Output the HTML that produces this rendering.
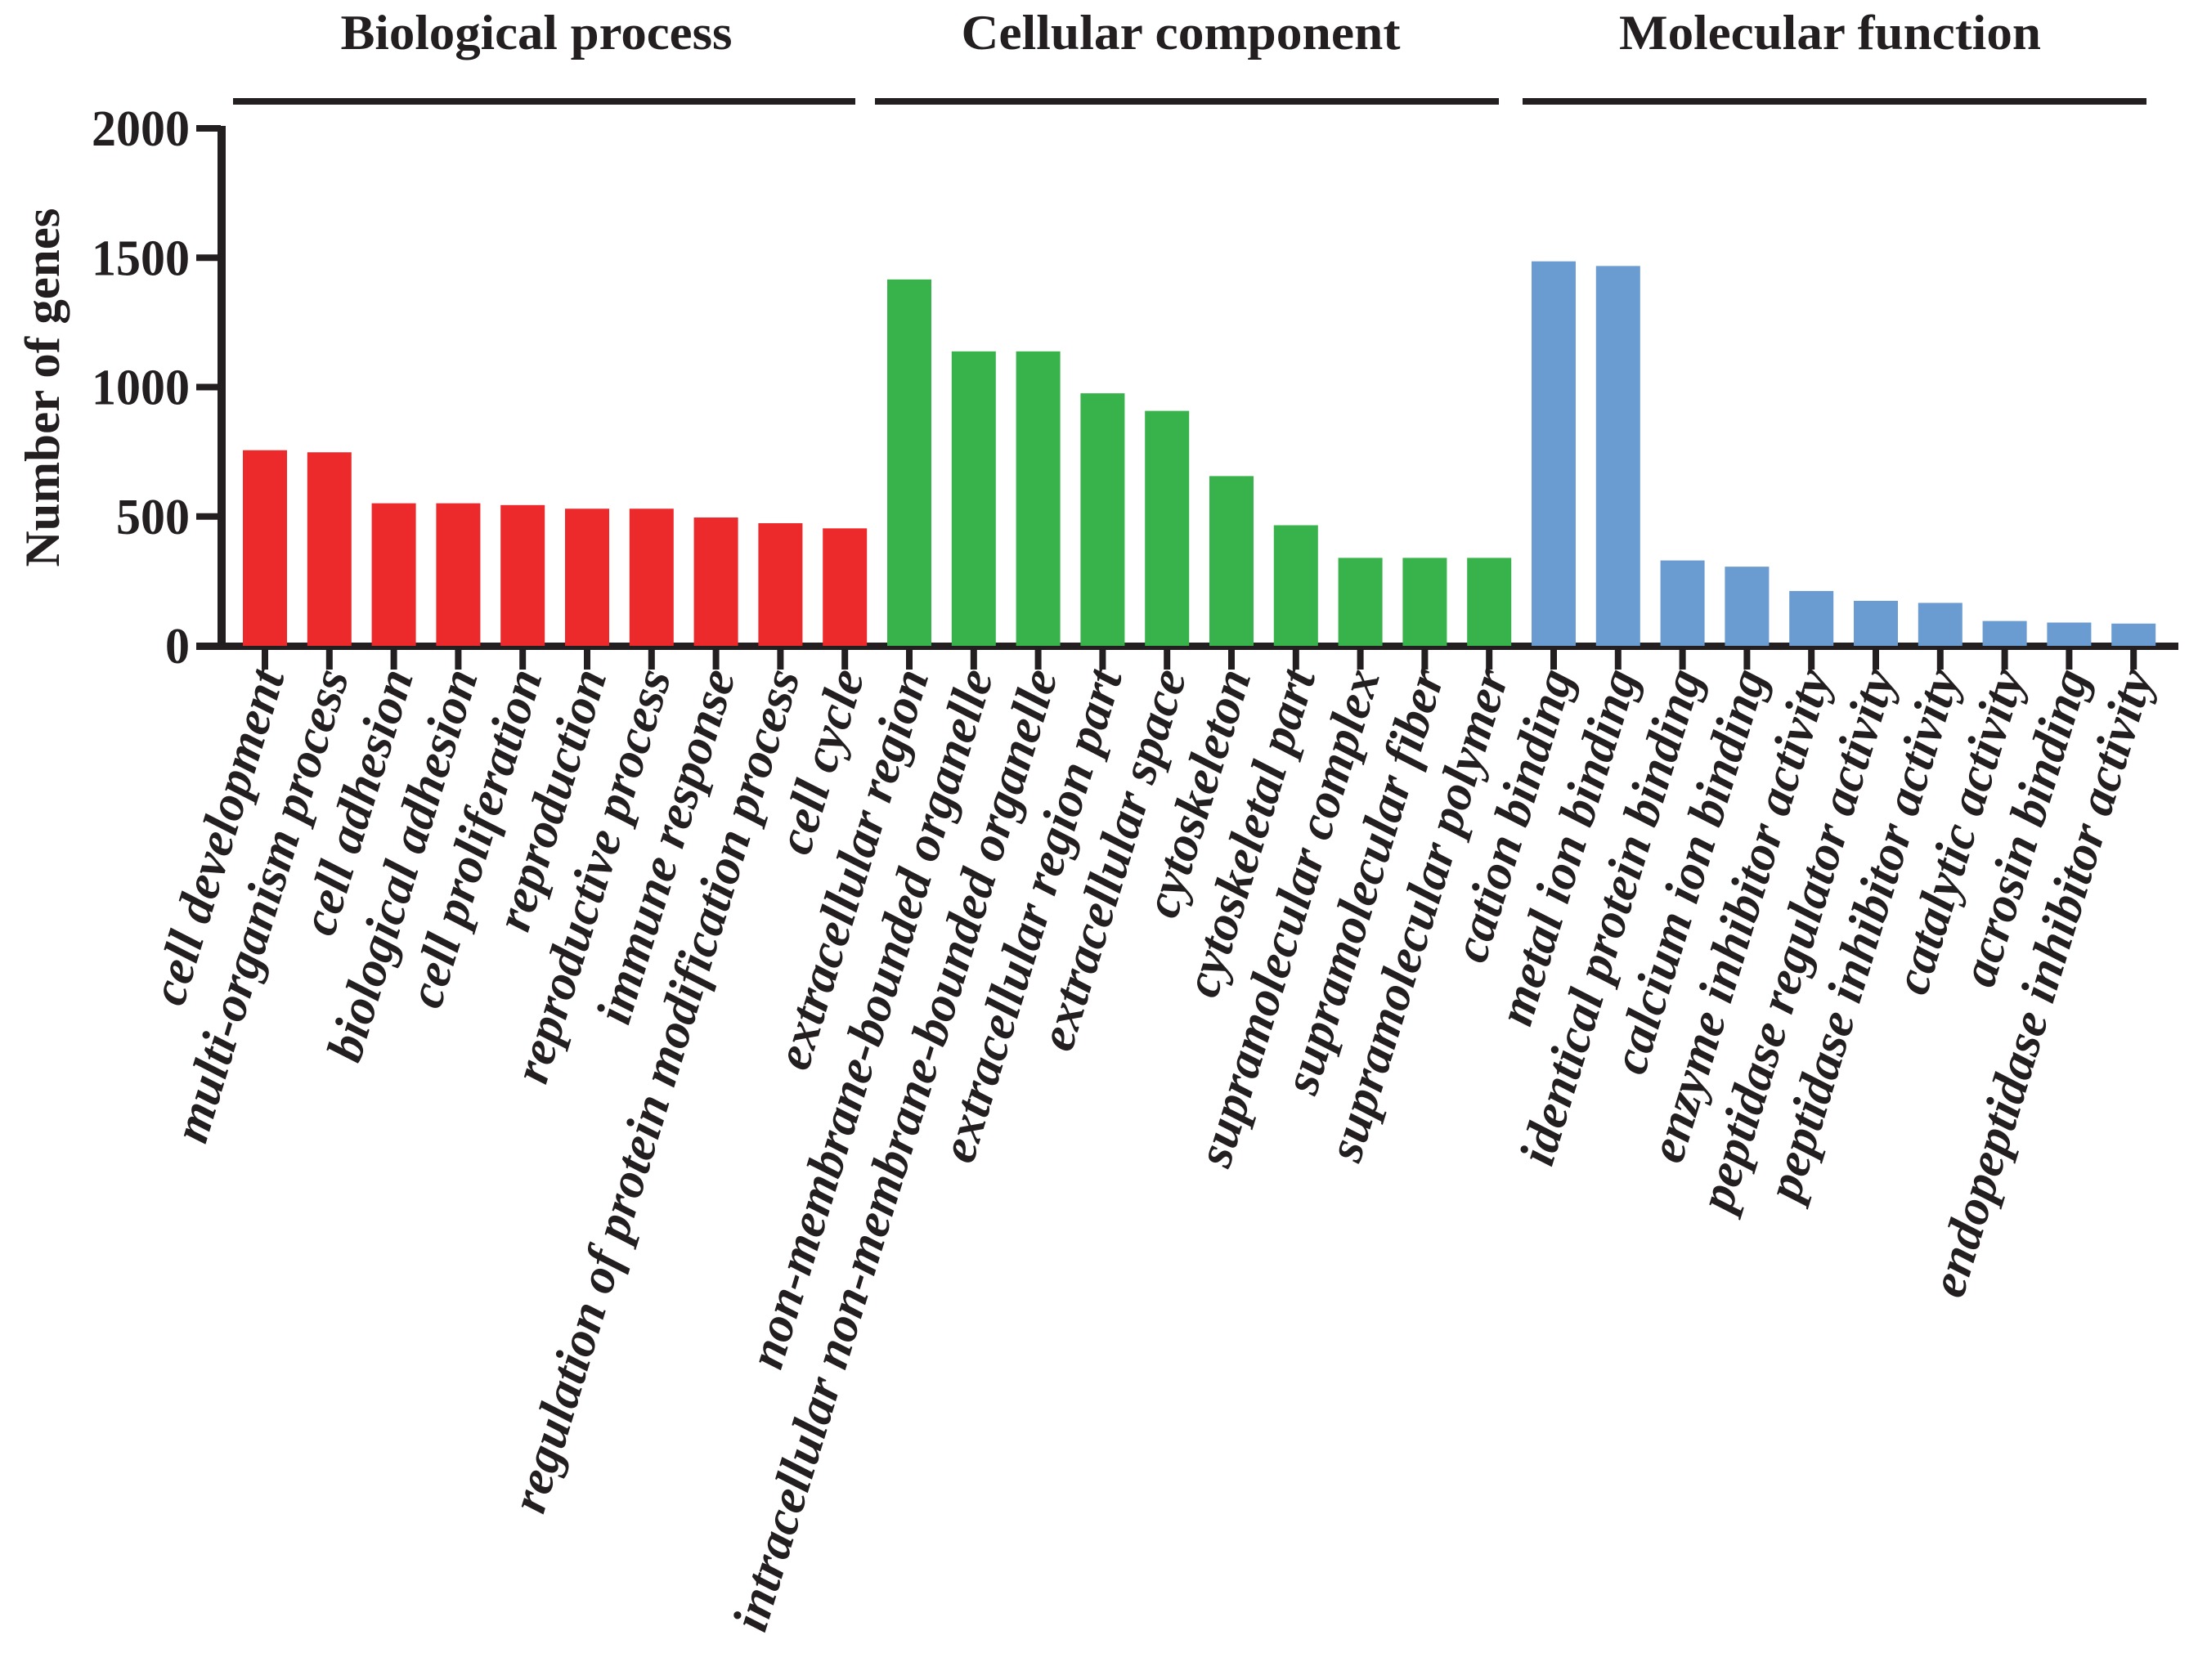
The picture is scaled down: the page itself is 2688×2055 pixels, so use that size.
<!DOCTYPE html>
<html><head><meta charset="utf-8"><style>
html,body{margin:0;padding:0;background:#fff;}
svg{display:block;}
text{font-family:"Liberation Serif",serif;font-weight:bold;fill:#231f20;}
</style></head><body>
<svg id="chart" width="2688" height="2055" viewBox="0 0 2688 2055" xmlns="http://www.w3.org/2000/svg">
<g id="axes"></g>
<g id="bars"></g>
<g id="labels"></g>
<g id="groups"></g>
</svg>
<script>
const categories = ["cell development","multi-organism process","cell adhesion","biological adhesion","cell proliferation","reproduction","reproductive process","immune response","regulation of protein modification process","cell cycle",
"extracellular region","non-membrane-bounded organelle","intracellular non-membrane-bounded organelle","extracellular region part","extracellular space","cytoskeleton","cytoskeletal part","supramolecular complex","supramolecular fiber","supramolecular polymer",
"cation binding","metal ion binding","identical protein binding","calcium ion binding","enzyme inhibitor activity","peptidase regulator activity","peptidase inhibitor activity","catalytic activity","acrosin binding","endopeptidase inhibitor activity"];
const values = [756,748,551,551,544,530,530,496,474,454,
1416,1138,1138,976,908,656,466,340,340,340,
1486,1468,330,306,212,174,166,96,90,86];
const groupNames = ["Biological process","Cellular component","Molecular function"];
const groupSizes = [10,10,10];
const yTicks = [0,500,1000,1500,2000];
const yTickLabels = ["0","500","1000","1500","2000"];

const NS="http://www.w3.org/2000/svg";
const colors=["#ec2a2b","#38b24a","#6a9bd1"];
const y0=790, yScale=0.3165;
function yPos(v){return y0-v*yScale;}
function xLeft(i){return 297+i*78.8;}
const bw=54;
function mk(tag,attrs,parent){const e=document.createElementNS(NS,tag);for(const k in attrs)e.setAttribute(k,attrs[k]);parent.appendChild(e);return e;}
const axes=document.getElementById('axes'),bars=document.getElementById('bars'),labels=document.getElementById('labels'),groups=document.getElementById('groups');

function groupOf(i){let s=0;for(let g=0;g<groupSizes.length;g++){s+=groupSizes[g];if(i<s)return g;}return 0;}
values.forEach((v,i)=>{
  const r=mk('rect',{x:xLeft(i),y:yPos(v),width:bw,height:y0-yPos(v),fill:colors[groupOf(i)]},bars);
  
  
  const t=mk('rect',{x:xLeft(i)+bw/2-4,y:790,width:8,height:29,fill:'#231f20'},axes);
  
  
});
const ya=mk('rect',{x:266,y:154,width:10,height:640,fill:'#231f20'},axes);


const xa=mk('rect',{x:240,y:786,width:2424,height:9,fill:'#231f20'},axes);


yTicks.forEach((v,k)=>{
  const t=mk('rect',{x:240,y:yPos(v)-4,width:30,height:8,fill:'#231f20'},axes);
  
  
  const s=yTickLabels[k];
  const tl=mk('text',{x:232,y:yPos(v)+21,'text-anchor':'end','font-size':62,textLength:s.length*30,lengthAdjust:'spacingAndGlyphs'},axes);
  tl.textContent=s;
  
  
});
const yt=mk('text',{x:0,y:0,transform:'translate(72,474) rotate(-90)','text-anchor':'middle','font-size':60,textLength:439,lengthAdjust:'spacingAndGlyphs'},axes);
yt.textContent='Number of genes';



categories.forEach((c,i)=>{
  const ex=xLeft(i)+bw/2+24, ey=826;
  const t=mk('text',{x:0,y:0,transform:'translate('+ex+','+ey+') rotate(-73)','text-anchor':'end','font-size':62,'font-style':'italic'},labels);
  t.textContent=c;
  
  
});

const gl=[[285,1046],[1070,1833],[1862,2625]];
const gc=[656,1444,2238], gw=[479,537,516];
groupNames.forEach((g,k)=>{
  const l=mk('rect',{x:gl[k][0],y:120,width:gl[k][1]-gl[k][0],height:8,fill:'#231f20'},groups);
  
  
  const t=mk('text',{x:gc[k],y:60,'text-anchor':'middle','font-size':60,textLength:gw[k],lengthAdjust:'spacingAndGlyphs'},groups);
  t.textContent=g;
  
  
});
</script>
</body></html>
